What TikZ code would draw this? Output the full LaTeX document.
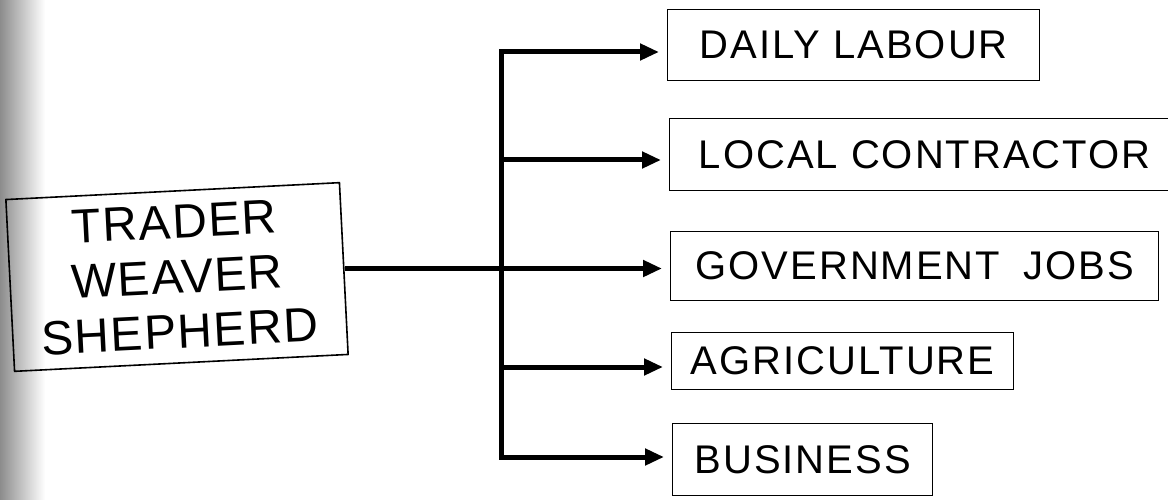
\documentclass[tikz,border=0pt]{standalone}
\usepackage{fontspec}
\setmainfont{Liberation Sans}
\usetikzlibrary{arrows.meta}
\begin{document}
\begin{tikzpicture}[x=1pt,y=1pt,
  box/.style={draw, line width=1.4pt, inner sep=0pt, anchor=north west,
    font=\fontsize{40}{44}\selectfont\addfontfeatures{LetterSpace=5}},
  conn/.style={line width=5pt},
  tip/.style={-{Triangle[length=19pt,width=16pt]}},
  arr/.style={conn, tip, shorten >=8pt},
]
\useasboundingbox (0,0) rectangle (1168,-500);
\shade[left color=black!45, right color=white] (0,0) rectangle (45,-500);

\node[draw, line width=1.6pt, rotate=2.9, minimum width=334pt, minimum height=172pt,
  align=center, inner sep=0pt,
  font=\fontsize{48}{55}\selectfont\addfontfeatures{LetterSpace=3}] (src) at (177,-277)
  {TRADER\\WEAVER\\SHEPHERD};

\node[box, minimum width=372pt, minimum height=71pt] (d) at (667,-9) {DAILY LABOUR};
\node[box, minimum width=510pt, minimum height=72pt] (l) at (669,-118) {LOCAL CONTRACTOR\hspace{30pt}};
\node[box, minimum width=488pt, minimum height=69pt] (g) at (670,-231) {GOVERNMENT\hspace{10pt} JOBS};
\node[box, minimum width=342pt, minimum height=57pt] (a) at (671,-332) {AGRICULTURE};
\node[box, minimum width=260pt, minimum height=72pt] (b) at (672,-423) {BUSINESS};

\coordinate (j1) at (501,-52);
\coordinate (j2) at (501,-160);
\coordinate (j4) at (501,-367);
\coordinate (j5) at (501,-457);

\draw[conn, {Triangle[length=19pt,width=16pt]}-{Triangle[length=19pt,width=16pt]},
  shorten <=8pt, shorten >=8pt, line join=miter]
  (j1 -| d.west) -- (j1) -- (j5) -- (j5 -| b.west);
\draw[arr] (j2) -- (j2 -| l.west);
\draw[arr] (src.east) -- (src.east -| g.west);
\draw[arr] (j4) -- (j4 -| a.west);
\end{tikzpicture}
\end{document}
